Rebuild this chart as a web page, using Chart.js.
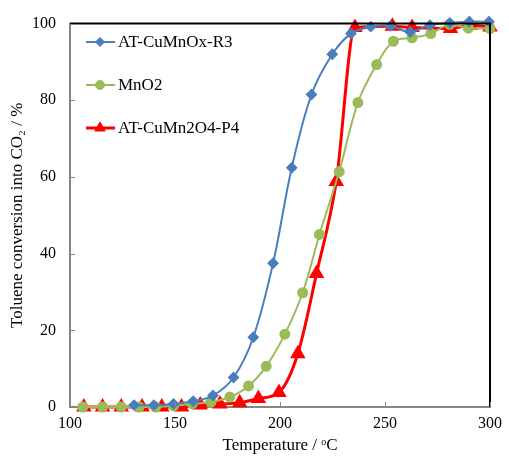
<!DOCTYPE html>
<html lang="en">
  <head>
    <meta charset="UTF-8" />
    <title>Toluene conversion</title>
    <script src="https://cdn.jsdelivr.net/npm/chart.js@4.4.0/dist/chart.umd.min.js"></script>
    <style>
      body {
        margin: 0;
        background: #fff;
      }
      .wrap {
        width: 509px;
        height: 456px;
        position: relative;
      }
    </style>
  </head>
  <body>
    <div class="wrap">
      <canvas id="conv" width="509" height="456"></canvas>
    </div>

    <script>
      // values
      const r3Temp = [130.5, 139.9, 149.3, 158.7, 168.1, 177.9, 187.3, 196.7, 205.6, 215.0, 224.9, 233.8, 243.2, 252.6, 262.0, 271.4, 280.8, 290.1, 299.5];
      const r3Conv = [0.5, 0.5, 0.8, 1.5, 3.0, 7.7, 18.2, 37.5, 62.4, 81.5, 92.0, 97.4, 99.2, 99.4, 97.8, 99.6, 100.2, 100.5, 100.5];

      const mno2Temp = [106.1, 115.5, 124.4, 132.9, 140.8, 149.3, 158.2, 167.1, 176.1, 185.0, 193.4, 202.3, 210.8, 218.8, 228.2, 237.1, 246.0, 254.0, 262.9, 271.8, 280.8, 289.7, 300.0];
      const mno2Conv = [0, 0, 0, 0, 0, 0.3, 0.8, 1.3, 2.6, 5.5, 10.6, 19.0, 29.8, 45.0, 61.4, 79.4, 89.3, 95.4, 96.3, 97.4, 99.8, 98.8, 98.7];

      const p4Temp = [106.6, 115.5, 124.4, 134.3, 143.7, 153.1, 162.0, 171.4, 180.8, 189.7, 199.5, 208.5, 217.4, 226.8, 235.7, 253.5, 262.9, 281.2, 290.6, 300.0];
      const p4Conv = [0, 0, 0, 0, 0, 0, 0.5, 0.8, 1.1, 2.2, 3.8, 13.9, 34.8, 58.8, 99.0, 99.3, 99.0, 98.7, 99.6, 99.1];

      const seriesNames = ["AT-CuMnOx-R3", "MnO2", "AT-CuMn2O4-P4"];
      const xTicks = [100, 150, 200, 250, 300];
      const yTicks = [0, 20, 40, 60, 80, 100];

      const pts = (xs, ys) => xs.map((x, i) => ({ x: x, y: ys[i] }));

      const serif = "'Liberation Serif', 'Times New Roman', serif";

      // inward tick marks + black top/right frame
      const frame = {
        id: "frame",
        afterDraw(chart) {
          const ctx = chart.ctx;
          const a = chart.chartArea;
          const xs = chart.scales.x;
          const ys = chart.scales.y;
          ctx.save();
          ctx.strokeStyle = "#000";
          ctx.lineWidth = 2;
          ctx.beginPath();
          ctx.moveTo(a.left, a.top);
          ctx.lineTo(a.right, a.top);
          ctx.lineTo(a.right, a.bottom);
          ctx.stroke();
          ctx.strokeStyle = "#868686";
          ctx.lineWidth = 1;
          ctx.beginPath();
          yTicks.forEach((v) => {
            const y = Math.round(ys.getPixelForValue(v)) + 0.5;
            ctx.moveTo(a.left, y);
            ctx.lineTo(a.left + 5, y);
          });
          xTicks.forEach((v) => {
            const x = Math.round(xs.getPixelForValue(v)) + 0.5;
            ctx.moveTo(x, a.bottom);
            ctx.lineTo(x, a.bottom - 5);
          });
          ctx.stroke();
          ctx.restore();
        },
      };

      // legend drawn inside the plot, top left
      const innerLegend = {
        id: "innerLegend",
        afterDraw(chart) {
          const ctx = chart.ctx;
          const rows = [42, 85, 128];
          ctx.save();
          chart.data.datasets.forEach((ds, i) => {
            const y = rows[i];
            ctx.strokeStyle = ds.borderColor;
            ctx.fillStyle = ds.backgroundColor;
            ctx.lineWidth = ds.borderWidth;
            ctx.beginPath();
            ctx.moveTo(86, y);
            ctx.lineTo(115, y);
            ctx.stroke();
            ctx.lineWidth = 1;
            Chart.helpers.drawPoint(
              ctx,
              { pointStyle: ds.pointStyle, radius: ds.pointRadius, borderWidth: 1, rotation: 0 },
              100,
              y
            );
            ctx.fillStyle = "#000";
            ctx.font = "17px " + serif;
            ctx.textBaseline = "middle";
            ctx.fillText(seriesNames[i], 118, y + 1);
          });
          ctx.restore();
        },
      };

      const ctx = document.getElementById("conv").getContext("2d");
      new Chart(ctx, {
        type: "scatter",
        data: {
          datasets: [
            {
              label: seriesNames[0],
              data: pts(r3Temp, r3Conv),
              showLine: true,
              borderColor: "#4A7EBB",
              backgroundColor: "#4A7EBB",
              borderWidth: 2,
              pointStyle: "rectRot",
              pointRadius: 4.5,
              tension: 0.35,
              clip: false,
            },
            {
              label: seriesNames[1],
              data: pts(mno2Temp, mno2Conv),
              showLine: true,
              borderColor: "#9BBB59",
              backgroundColor: "#9BBB59",
              borderWidth: 2,
              pointStyle: "circle",
              pointRadius: 4.5,
              tension: 0.35,
              clip: false,
            },
            {
              label: seriesNames[2],
              data: pts(p4Temp, p4Conv),
              showLine: true,
              borderColor: "#FF0000",
              backgroundColor: "#FF0000",
              borderWidth: 3,
              pointStyle: "triangle",
              pointRadius: 6,
              cubicInterpolationMode: "monotone",
              clip: false,
            },
          ],
        },
        options: {
          responsive: false,
          animation: false,
          layout: { padding: { top: 20, right: 13, left: 0, bottom: 0 } },
          plugins: {
            legend: { display: false },
            tooltip: { enabled: false },
          },
          scales: {
            x: {
              type: "linear",
              min: 100,
              max: 300,
              afterBuildTicks: (s) => {
                s.ticks = xTicks.map((v) => ({ value: v }));
              },
              afterFit: (s) => {
                s.height = 49;
              },
              grid: { display: false, drawTicks: false },
              border: { color: "#868686", width: 2 },
              ticks: { color: "#000", padding: 7, font: { family: serif, size: 16 } },
              title: {
                display: true,
                text: "Temperature / ᵒC",
                color: "#000",
                padding: { top: 0, bottom: 0 },
                font: { family: serif, size: 17 },
              },
            },
            y: {
              min: 0,
              max: 100,
              afterBuildTicks: (s) => {
                s.ticks = yTicks.map((v) => ({ value: v }));
              },
              afterFit: (s) => {
                s.width = 70;
              },
              grid: { display: false, drawTicks: false },
              border: { color: "#868686", width: 2 },
              ticks: { color: "#000", padding: 14, font: { family: serif, size: 16 } },
              title: {
                display: true,
                text: "Toluene conversion into CO₂ / %",
                color: "#000",
                padding: { top: 7, bottom: 0 },
                font: { family: serif, size: 17 },
              },
            },
          },
        },
        plugins: [frame, innerLegend],
      });
    </script>
  </body>
</html>
